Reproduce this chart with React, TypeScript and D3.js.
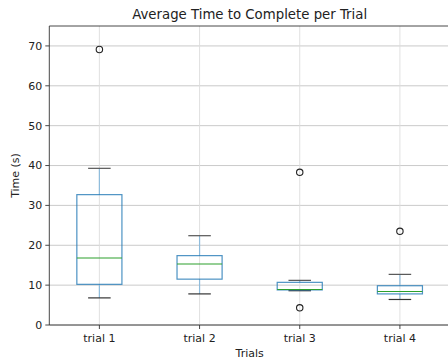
import React from "react";
import * as d3 from "d3";

const categories = ["trial 1", "trial 2", "trial 3", "trial 4"];
const whiskerLow = [6.8, 7.8, 8.6, 6.4];
const q1 = [10.2, 11.5, 8.8, 7.8];
const median = [16.8, 15.3, 8.9, 8.4];
const q3 = [32.7, 17.4, 10.7, 9.85];
const whiskerHigh = [39.3, 22.4, 11.2, 12.7];
const outliers: number[][] = [[69.1], [], [38.3, 4.3], [23.5]];
const yTicks = [0, 10, 20, 30, 40, 50, 60, 70];

const W = 448, H = 362;
const left = 49.3, right = 450, top = 26, bottom = 325;

export default function App() {
  const x = d3.scaleLinear().domain([0.5, 4.5]).range([left, right]);
  const y = d3.scaleLinear().domain([0, 75]).range([bottom, top]);
  const bw = 0.45, cw = 0.225;
  const font = "DejaVu Sans, sans-serif";
  const blue = "#1f77b4";
  return (
    <svg width={W} height={H} style={{ position: "absolute", left: 0, top: 0, background: "#fff" }}>
      {/* grid */}
      {yTicks.map(t => (
        <line key={"gy" + t} x1={left} x2={right} y1={y(t)} y2={y(t)} stroke="#c4c4c4" strokeWidth={0.9} />
      ))}
      {categories.map((c, i) => (
        <line key={"gx" + c} x1={x(i + 1)} x2={x(i + 1)} y1={top} y2={bottom} stroke="#dcdcdc" strokeWidth={0.9} />
      ))}
      {/* boxes */}
      {categories.map((c, i) => {
        const p = i + 1;
        return (
          <g key={"b" + c}>
            <line x1={x(p)} x2={x(p)} y1={y(q3[i])} y2={y(whiskerHigh[i])} stroke="#8fbcdc" strokeWidth={1.2} />
            <line x1={x(p)} x2={x(p)} y1={y(q1[i])} y2={y(whiskerLow[i])} stroke="#8fbcdc" strokeWidth={1.2} />
            <line x1={x(p - cw / 2)} x2={x(p + cw / 2)} y1={y(whiskerHigh[i])} y2={y(whiskerHigh[i])} stroke="#555" strokeWidth={1.2} />
            <line x1={x(p - cw / 2)} x2={x(p + cw / 2)} y1={y(whiskerLow[i])} y2={y(whiskerLow[i])} stroke="#333" strokeWidth={1.2} />
            <rect x={x(p - bw / 2)} y={y(q3[i])} width={x(p + bw / 2) - x(p - bw / 2)} height={y(q1[i]) - y(q3[i])} fill="none" stroke={blue} strokeWidth={1.2} strokeOpacity={0.8} />
            <line x1={x(p - bw / 2)} x2={x(p + bw / 2)} y1={y(median[i])} y2={y(median[i])} stroke="#2ca02c" strokeWidth={1.2} />
            {outliers[i].map((o, j) => (
              <circle key={j} cx={x(p)} cy={y(o)} r={3.2} fill="none" stroke="#222" strokeWidth={1.1} />
            ))}
          </g>
        );
      })}
      {/* spines */}
      <line x1={left} x2={left} y1={top} y2={bottom} stroke="#333" strokeWidth={0.9} />
      <line x1={left} x2={right} y1={top} y2={top} stroke="#333" strokeWidth={0.9} />
      <line x1={left} x2={right} y1={bottom} y2={bottom} stroke="#333" strokeWidth={0.9} />
      {/* y ticks */}
      {yTicks.map(t => (
        <g key={"ty" + t}>
          <line x1={left - 4} x2={left} y1={y(t)} y2={y(t)} stroke="#333" strokeWidth={0.9} />
          <text x={left - 7} y={y(t)} dy="0.35em" textAnchor="end" fontFamily={font} fontSize={11} fill="#222">{t}</text>
        </g>
      ))}
      {categories.map((c, i) => (
        <g key={"tx" + c}>
          <line x1={x(i + 1)} x2={x(i + 1)} y1={bottom} y2={bottom + 4} stroke="#333" strokeWidth={0.9} />
          <text x={x(i + 1)} y={bottom + 17} textAnchor="middle" fontFamily={font} fontSize={11} fill="#222">{c}</text>
        </g>
      ))}
      <text x={(left + right) / 2} y={19} textAnchor="middle" fontFamily={font} fontSize={13.3} fill="#222">Average Time to Complete per Trial</text>
      <text x={(left + right) / 2} y={357} textAnchor="middle" fontFamily={font} fontSize={11} fill="#222">Trials</text>
      <text transform={`translate(19,${(top + bottom) / 2}) rotate(-90)`} textAnchor="middle" fontFamily={font} fontSize={11} fill="#222">Time (s)</text>
    </svg>
  );
}
